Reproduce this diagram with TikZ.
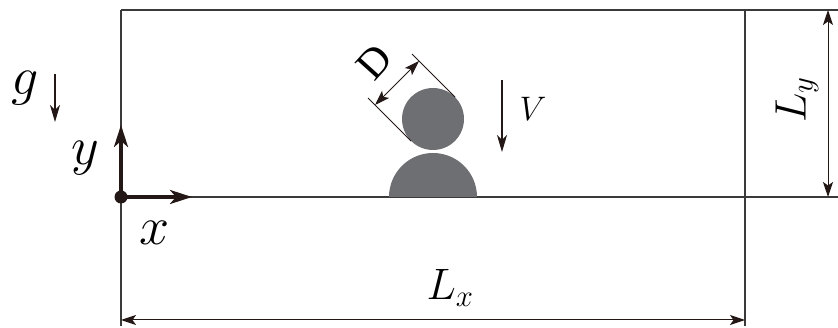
\RequirePackage{fix-cm}
\documentclass[tikz,border=0pt]{standalone}
\usepackage{fontspec}
\newfontfamily\timesf{Liberation Serif}
\usetikzlibrary{arrows.meta}
\definecolor{ink}{HTML}{231815}
\definecolor{frame}{HTML}{3A3A3A}
\definecolor{drop}{HTML}{6E6F73}
\begin{document}
\begin{tikzpicture}[x=1pt,y=-1pt,
  frameline/.style={draw=frame,line width=1.4pt},
  thinline/.style={draw=ink,line width=1pt},
  dimarrow/.style={draw=ink,line width=1pt,{Stealth[length=15pt,width=10pt,inset=3.5pt]}-{Stealth[length=15pt,width=10pt,inset=3.5pt]}},
  onearrow/.style={draw=ink,line width=1.1pt,-{Stealth[length=17pt,width=10pt,inset=5pt]}},
  axisarrow/.style={draw=ink,line width=3.6pt,-{Stealth[length=22pt,width=14pt,inset=6pt]}},
  bigmath/.style={inner sep=0pt,font=\fontsize{54}{60}\selectfont},
  lmath/.style={inner sep=0pt,font=\fontsize{44}{50}\selectfont},
  smath/.style={inner sep=0pt,font=\fontsize{34}{38}\selectfont}]
\useasboundingbox (0,0) rectangle (838,328);
% frame corners
\coordinate (tl) at (121,10);
\coordinate (tr) at (745,10);
\coordinate (bl) at (121,197);
\coordinate (br) at (745,197);
\coordinate (tlx) at (838,10);
\coordinate (blx) at (838,197);
\coordinate (lb) at (121,326);
\coordinate (rb) at (745,326);
\draw[frameline] (tl) -- (tlx);
\draw[frameline] (bl) -- (blx);
\draw[frameline] (tl) -- (lb);
\draw[frameline] (tr) -- (rb);
% droplets
\fill[drop] (477,197) arc[start angle=0,end angle=-180,radius=44] -- cycle;
\node[circle,fill=drop,minimum size=62pt,inner sep=0pt] (drop) at (433,119) {};
% D dimension
\coordinate (t1) at (455,97);
\coordinate (t2) at (411,141);
\coordinate (e1) at (412,54);
\coordinate (e2) at (368,98);
\draw[thinline] (t1) -- (e1);
\draw[thinline] (t2) -- (e2);
\coordinate (d1) at (419,61);
\coordinate (d2) at (375,105);
\draw[dimarrow] (d2) -- (d1);
\node[inner sep=0pt,font=\timesf\fontsize{42}{46}\selectfont,rotate=48] (Dl) at (374,62) {D};
% V
\coordinate (v1) at (502,80);
\coordinate (v2) at (502,152);
\draw[onearrow] (v1) -- (v2);
\node[smath] (Vl) at (533,109) {$V$};
% g
\coordinate (g1) at (55,74);
\coordinate (g2) at (55,122);
\draw[onearrow] (g1) -- (g2);
\node[bigmath] (gl) at (25,88) {$g$};
% axes
\coordinate (o) at (bl);
\coordinate (xa) at (192,197);
\coordinate (ya) at (121,125);
\draw[axisarrow] (o) -- (xa);
\draw[axisarrow] (o) -- (ya);
\node[circle,fill=ink,minimum size=13pt,inner sep=0pt] (od) at (o) {};
\node[bigmath] (yl) at (85,158) {$y$};
\node[bigmath] (xl) at (155,233) {$x$};
% Lx
\coordinate (lx1) at (121,320);
\coordinate (lx2) at (745,320);
\draw[dimarrow] (lx1) -- (lx2);
\node[lmath] (Lxl) at (450,288) {$L_x$};
% Ly
\coordinate (ly1) at (828,10);
\coordinate (ly2) at (828,197);
\draw[dimarrow] (ly1) -- (ly2);
\node[lmath,rotate=90] (Lyl) at (797,100) {$L_y$};
\end{tikzpicture}
\end{document}
